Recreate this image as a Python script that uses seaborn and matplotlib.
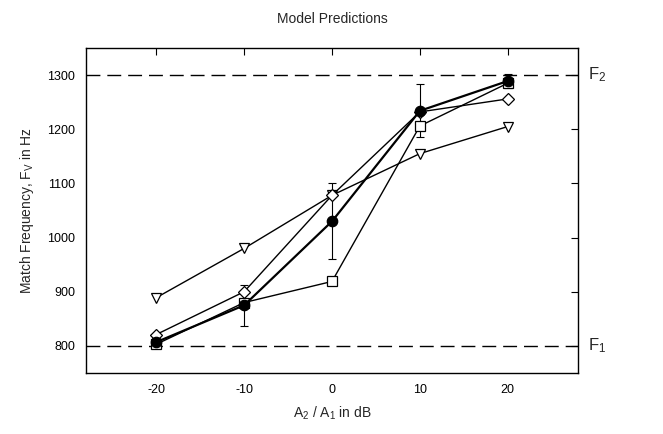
import matplotlib
matplotlib.use("Agg")
import matplotlib.pyplot as plt
import seaborn as sns
import pandas as pd
import numpy as np

# Data
x_db = [-20, -10, 0, 10, 20]
circle = [807, 875, 1030, 1234, 1289]
circle_err = [8, 38, 70, 49, 13]
square = [803, 880, 919, 1206, 1285]
diamond = [821, 900, 1078, 1232, 1256]
triangle = [889, 980, 1078, 1155, 1205]
f_lines = [800, 1300]
f_labels = ["F$_1$", "F$_2$"]
yticks = [800, 900, 1000, 1100, 1200, 1300]
xticks = [-20, -10, 0, 10, 20]

sns.set_theme(style="white")
plt.rcParams['font.family'] = ['Liberation Sans', 'DejaVu Sans']
plt.rcParams['mathtext.fontset'] = 'custom'
plt.rcParams['mathtext.rm'] = 'Liberation Sans'
plt.rcParams['mathtext.it'] = 'Liberation Sans'

fig = plt.figure(figsize=(6.63, 4.34), dpi=100)
ax = fig.add_axes([0.1297, 0.1406, 0.8718 - 0.1297, 0.8894 - 0.1406])

for yv in f_lines:
    ax.axhline(yv, color="black", lw=1.0, ls=(0, (10, 5)), zorder=1)

series = [
    ("triangle", triangle, "v", "white", 1.0),
    ("diamond", diamond, "D", "white", 1.0),
    ("square", square, "s", "white", 1.0),
    ("circle", circle, "o", "black", 1.6),
]
for name, vals, mk, fc, lw in series:
    df = pd.DataFrame({"x": x_db, "y": vals})
    sns.lineplot(data=df, x="x", y="y", ax=ax, color="black", lw=lw,
                 marker=mk, markersize=7.5 if mk != "D" else 6.5,
                 markerfacecolor=fc, markeredgecolor="black",
                 markeredgewidth=0.9, zorder=3)

ax.errorbar(x_db, circle, yerr=circle_err, fmt="none", ecolor="black",
            elinewidth=0.8, capsize=3, capthick=0.8, zorder=2)

ax.set_xlim(-28, 28)
ax.set_ylim(750, 1350)
ax.set_xticks(xticks)
ax.set_xticklabels([str(v) for v in xticks])
ax.set_yticks(yticks)
ax.tick_params(direction="in", length=5, width=0.8, top=True, right=True,
               labelsize=9, colors="black", pad=8)
for s in ax.spines.values():
    s.set_color("black")
    s.set_linewidth(1.0)

ax.set_xlabel("A$_2$ / A$_1$ in dB", fontsize=10, labelpad=6)
ax.set_ylabel("Match Frequency, F$_V$ in Hz", fontsize=10, labelpad=8)
ax.set_title("Model Predictions", fontsize=10, pad=18)

for yv, lab in zip(f_lines, f_labels):
    ax.text(1.02, yv, lab, transform=ax.get_yaxis_transform(), fontsize=12,
            va="center", ha="left")

fig.savefig("out.png", dpi=100)
